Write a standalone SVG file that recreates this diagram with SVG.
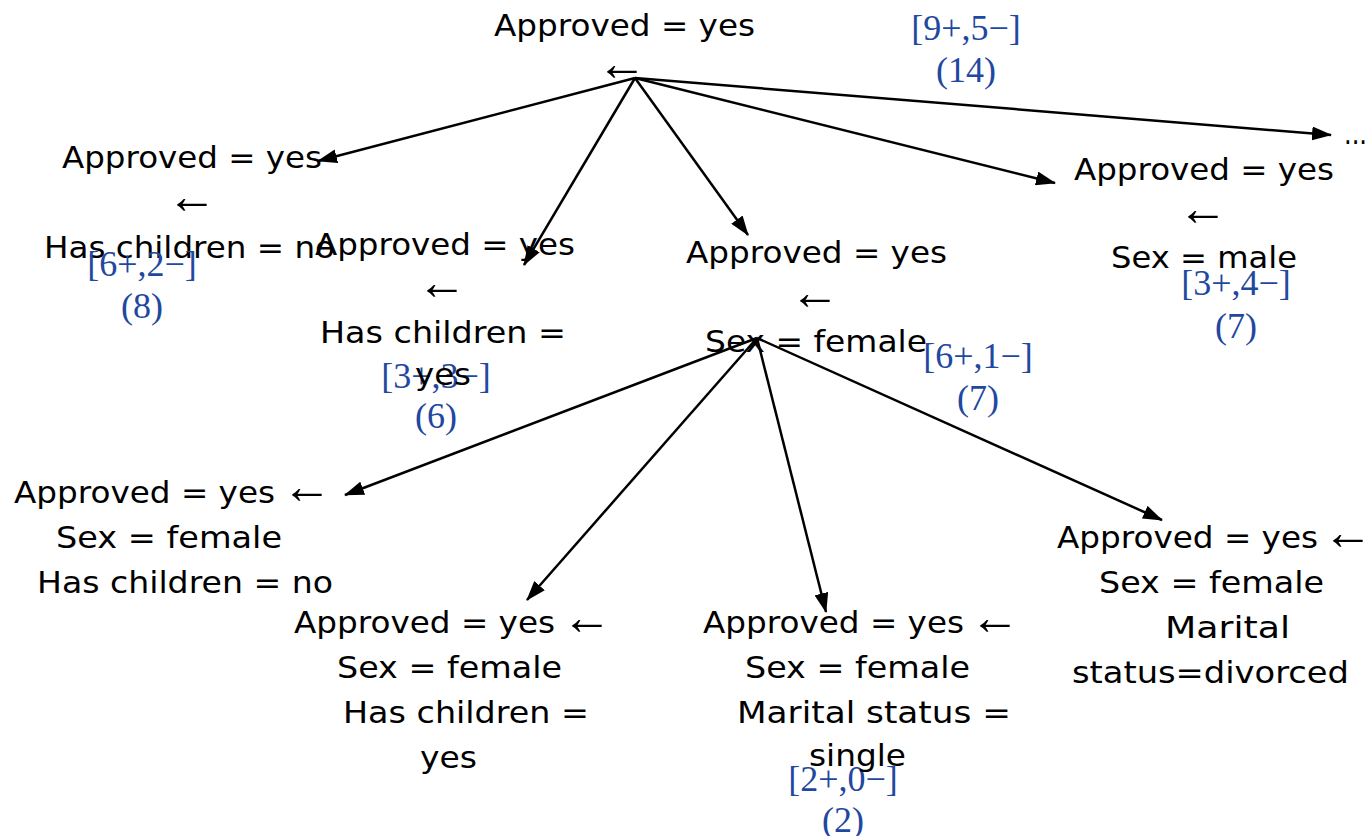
<svg xmlns="http://www.w3.org/2000/svg" width="1367" height="836" viewBox="0 0 1367 836">
  <style>
    .t { font-family: "DejaVu Sans", "Liberation Sans", sans-serif; font-size: 31px; fill: #000; }
    .a { font-family: "Liberation Serif", "DejaVu Serif", serif; font-size: 50px; fill: #000; }
    .c { font-family: "Liberation Serif", "Times New Roman", serif; font-size: 36px; fill: #1f48a0; text-anchor: middle; }
    .e { stroke: #000; stroke-width: 2.5; fill: none; marker-end: url(#head); }
  </style>
  <defs>
    <marker id="head" markerUnits="userSpaceOnUse" markerWidth="20" markerHeight="14" refX="19" refY="7" orient="auto">
      <path d="M0,0 L20,7 L0,14 Z" fill="#000"/>
    </marker>
  </defs>
  <rect width="1367" height="836" fill="#fff"/>

  <g id="connectors">
    <line class="e" x1="635" y1="78" x2="318" y2="161"/>
    <line class="e" x1="635" y1="78" x2="524" y2="265"/>
    <line class="e" x1="635" y1="78" x2="748" y2="235"/>
    <line class="e" x1="635" y1="78" x2="1055" y2="183"/>
    <line class="e" x1="635" y1="78" x2="1331" y2="135"/>
    <line class="e" x1="757" y1="338" x2="345" y2="495"/>
    <line class="e" x1="757" y1="338" x2="527" y2="600"/>
    <line class="e" x1="757" y1="338" x2="826" y2="612"/>
    <line class="e" x1="757" y1="338" x2="1162" y2="520"/>
  </g>

  <g id="root">
    <text class="t" x="494" y="36" textLength="261" lengthAdjust="spacingAndGlyphs">Approved = yes</text>
    <text class="a" x="597" y="80">←</text>
    <text class="c" x="966" y="40">[9+,5−]</text>
    <text class="c" x="966" y="82">(14)</text>
  </g>

  <g id="more">
    <text class="t" x="1344" y="144" textLength="23" lengthAdjust="spacingAndGlyphs">...</text>
  </g>

  <g id="n-children-no">
    <text class="t" x="62" y="168" textLength="260" lengthAdjust="spacingAndGlyphs">Approved = yes</text>
    <text class="a" x="167" y="213">←</text>
    <text class="t" x="44" y="258" textLength="291" lengthAdjust="spacingAndGlyphs">Has children = no</text>
    <text class="c" x="142" y="276">[6+,2−]</text>
    <text class="c" x="142" y="318">(8)</text>
  </g>

  <g id="n-children-yes">
    <text class="t" x="315" y="255" textLength="260" lengthAdjust="spacingAndGlyphs">Approved = yes</text>
    <text class="a" x="417" y="299">←</text>
    <text class="t" x="320" y="343" textLength="246" lengthAdjust="spacingAndGlyphs">Has children =</text>
    <text class="c" x="436" y="388">[3+,3−]</text>
    <text class="t" x="415" y="385" textLength="56" lengthAdjust="spacingAndGlyphs">yes</text>
    <text class="c" x="436" y="428">(6)</text>
  </g>

  <g id="n-female">
    <text class="t" x="686" y="263" textLength="261" lengthAdjust="spacingAndGlyphs">Approved = yes</text>
    <text class="a" x="790" y="309">←</text>
    <text class="t" x="705" y="352" textLength="222" lengthAdjust="spacingAndGlyphs">Sex = female</text>
    <text class="c" x="978" y="368">[6+,1−]</text>
    <text class="c" x="978" y="410">(7)</text>
  </g>

  <g id="n-male">
    <text class="t" x="1074" y="180" textLength="260" lengthAdjust="spacingAndGlyphs">Approved = yes</text>
    <text class="a" x="1178" y="225">←</text>
    <text class="t" x="1111" y="268" textLength="186" lengthAdjust="spacingAndGlyphs">Sex = male</text>
    <text class="c" x="1236" y="295">[3+,4−]</text>
    <text class="c" x="1236" y="338">(7)</text>
  </g>

  <g id="n-female-no-children">
    <text class="t" x="14" y="503" textLength="261" lengthAdjust="spacingAndGlyphs">Approved = yes</text>
    <text class="a" x="282" y="503">←</text>
    <text class="t" x="56" y="548" textLength="226" lengthAdjust="spacingAndGlyphs">Sex = female</text>
    <text class="t" x="37" y="593" textLength="296" lengthAdjust="spacingAndGlyphs">Has children = no</text>
  </g>

  <g id="n-female-children">
    <text class="t" x="294" y="633" textLength="261" lengthAdjust="spacingAndGlyphs">Approved = yes</text>
    <text class="a" x="562" y="634">←</text>
    <text class="t" x="337" y="678" textLength="225" lengthAdjust="spacingAndGlyphs">Sex = female</text>
    <text class="t" x="343" y="723" textLength="246" lengthAdjust="spacingAndGlyphs">Has children =</text>
    <text class="t" x="420" y="768" textLength="57" lengthAdjust="spacingAndGlyphs">yes</text>
  </g>

  <g id="n-female-single">
    <text class="t" x="703" y="633" textLength="261" lengthAdjust="spacingAndGlyphs">Approved = yes</text>
    <text class="a" x="970" y="634">←</text>
    <text class="t" x="745" y="678" textLength="225" lengthAdjust="spacingAndGlyphs">Sex = female</text>
    <text class="t" x="737" y="723" textLength="274" lengthAdjust="spacingAndGlyphs">Marital status =</text>
    <text class="c" x="843" y="791">[2+,0−]</text>
    <text class="t" x="809" y="766" textLength="97" lengthAdjust="spacingAndGlyphs">single</text>
    <text class="c" x="843" y="832">(2)</text>
  </g>

  <g id="n-female-divorced">
    <text class="t" x="1057" y="548" textLength="261" lengthAdjust="spacingAndGlyphs">Approved = yes</text>
    <text class="a" x="1323" y="549">←</text>
    <text class="t" x="1099" y="593" textLength="225" lengthAdjust="spacingAndGlyphs">Sex = female</text>
    <text class="t" x="1165" y="638" textLength="125" lengthAdjust="spacingAndGlyphs">Marital</text>
    <text class="t" x="1072" y="683" textLength="277" lengthAdjust="spacingAndGlyphs">status=divorced</text>
  </g>
</svg>
